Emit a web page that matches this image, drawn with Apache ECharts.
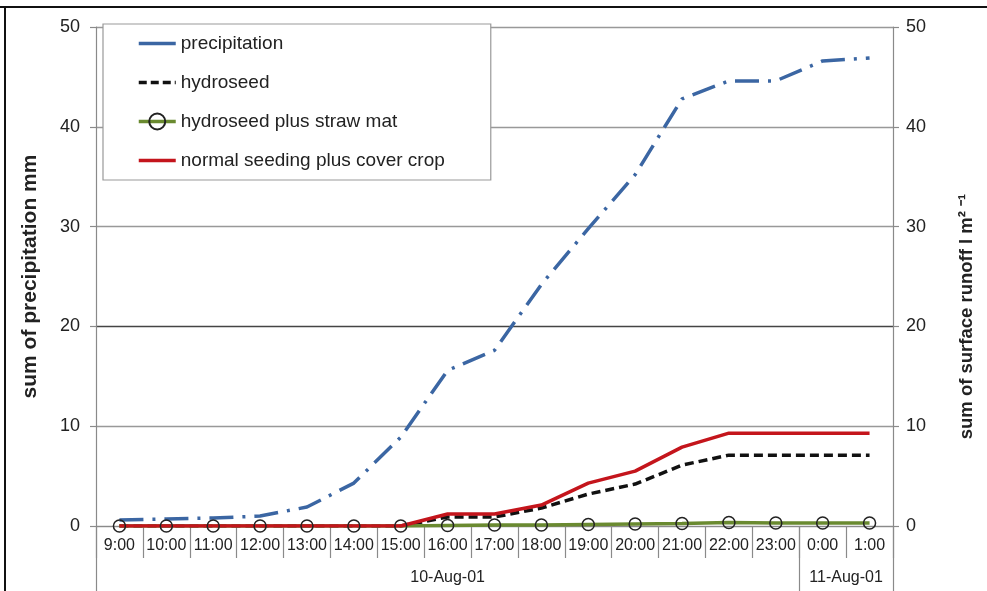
<!DOCTYPE html>
<html>
<head>
<meta charset="utf-8">
<script src="https://cdn.jsdelivr.net/npm/echarts@6/dist/echarts.min.js"></script>
<style>
html,body{margin:0;padding:0;background:#fff;}
#chart{width:987px;height:591px;}
</style>
</head>
<body>
<div id="chart"></div>
<script>
const hours = ['9:00','10:00','11:00','12:00','13:00','14:00','15:00','16:00','17:00','18:00','19:00','20:00','21:00','22:00','23:00','0:00','1:00'];
const dateLabels = ['10-Aug-01','11-Aug-01'];
const dateSpans = [15, 2];
const precipitation = [0.6,0.7,0.8,1.0,1.9,4.3,8.9,15.6,17.6,24.2,29.8,35.2,42.8,44.6,44.6,46.6,46.9];
const hydroseed = [0,0,0,0,0,0,0,0.9,0.9,1.8,3.2,4.2,6.1,7.1,7.1,7.1,7.1];
const strawMat = [0,0,0,0,0,0,0,0.05,0.1,0.1,0.15,0.2,0.25,0.35,0.3,0.3,0.3];
const coverCrop = [0,0,0,0,0,0,0,1.2,1.2,2.1,4.3,5.5,7.9,9.3,9.3,9.3,9.3];
const yTicks = [0,10,20,30,40,50];

// group boundaries and centers for the date level
const bounds = [0];
dateSpans.forEach(s => bounds.push(bounds[bounds.length-1] + s));
const centers = dateSpans.map((s, i) => bounds[i] + s / 2);

const FONT = '"Liberation Sans", Arial, sans-serif';
const grey = '#8a8a8a';
const cBlue = '#3b66a3', cBlack = '#111', cGreen = '#6a8a30', cRed = '#c4151c';

const chart = echarts.init(document.getElementById('chart'), null, {renderer: 'canvas'});
chart.setOption({
  animation: false,
  backgroundColor: '#fff',
  textStyle: {fontFamily: FONT},
  grid: {left: 96, right: 94, top: 27, bottom: 65, containLabel: false, outerBoundsMode: 'none'},
  legend: {
    orient: 'vertical', left: 103, top: 24,
    padding: [10, 46, 10, 34], itemGap: 20, itemWidth: 37, itemHeight: 20,
    backgroundColor: '#fff', borderColor: '#999', borderWidth: 1.2,
    textStyle: {fontSize: 19, color: '#222', fontFamily: FONT},
    data: [
      {name: 'precipitation', itemStyle: {opacity: 0}, lineStyle: {color: cBlue, width: 3.5, type: 'solid'}},
      {name: 'hydroseed', itemStyle: {opacity: 0}, lineStyle: {color: cBlack, width: 3.5, type: [8, 4]}},
      {name: 'hydroseed plus straw mat', lineStyle: {color: cGreen, width: 3.5, type: 'solid'}},
      {name: 'normal seeding plus cover crop', itemStyle: {opacity: 0}, lineStyle: {color: cRed, width: 3.5, type: 'solid'}}
    ]
  },
  xAxis: [
    {
      type: 'category', data: hours, boundaryGap: true, position: 'bottom',
      axisLine: {show: true, lineStyle: {color: grey, width: 1.2}},
      axisTick: {show: true, interval: 0, length: 32, lineStyle: {color: grey, width: 1.2}},
      axisLabel: {interval: 0, fontSize: 16, color: '#222', margin: 12, fontFamily: FONT},
      splitLine: {show: false}
    },
    {
      type: 'value', min: 0, max: hours.length, position: 'bottom',
      axisLine: {show: false},
      axisTick: {show: true, customValues: bounds, length: 66, lineStyle: {color: grey, width: 1.2}},
      axisLabel: {
        show: true, customValues: centers, fontSize: 16, color: '#222', margin: 44, fontFamily: FONT,
        formatter: v => { const i = centers.indexOf(v); return i >= 0 ? dateLabels[i] : ''; }
      },
      splitLine: {show: false}
    }
  ],
  yAxis: [
    {
      type: 'value', min: yTicks[0], max: yTicks[yTicks.length-1], interval: 10, position: 'left',
      name: 'sum of precipitation mm', nameLocation: 'middle', nameGap: 55,
      nameTextStyle: {fontSize: 21, fontWeight: 'bold', color: '#222', fontFamily: FONT},
      axisLine: {show: true, lineStyle: {color: grey, width: 1.2}},
      axisTick: {show: true, length: 6, lineStyle: {color: grey, width: 1.2}},
      axisLabel: {fontSize: 18, color: '#222', margin: 16, fontFamily: FONT},
      splitLine: {show: true, lineStyle: {color: ['#999','#999','#444','#999','#999','#999'], width: 1.3}}
    },
    {
      type: 'value', min: yTicks[0], max: yTicks[yTicks.length-1], interval: 10, position: 'right',
      name: 'sum of surface runoff l m\u00b2 \u207b\u00b9', nameLocation: 'middle', nameGap: 64,
      nameTextStyle: {fontSize: 18.5, fontWeight: 'bold', color: '#222', fontFamily: FONT, padding: [0, 80, 0, 0]},
      axisLine: {show: true, lineStyle: {color: grey, width: 1.2}},
      axisTick: {show: true, length: 6, lineStyle: {color: grey, width: 1.2}},
      axisLabel: {fontSize: 18, color: '#222', margin: 13, fontFamily: FONT},
      splitLine: {show: false}
    }
  ],
  graphic: [
    {type: 'line', shape: {x1: 0, y1: 7, x2: 987, y2: 7}, style: {stroke: '#111', lineWidth: 2}, z: 100},
    {type: 'line', shape: {x1: 5, y1: 7, x2: 5, y2: 591}, style: {stroke: '#111', lineWidth: 2}, z: 100}
  ],
  series: [
    {
      name: 'precipitation', type: 'line', yAxisIndex: 0, data: precipitation,
      showSymbol: false, symbol: 'none',
      lineStyle: {color: cBlue, width: 3.5, type: [24, 9, 3, 9], cap: 'butt'},
      itemStyle: {color: cBlue}
    },
    {
      name: 'hydroseed', type: 'line', yAxisIndex: 1, data: hydroseed,
      showSymbol: false, symbol: 'none',
      lineStyle: {color: cBlack, width: 3.5, type: [9, 5]},
      itemStyle: {color: cBlack}
    },
    {
      name: 'hydroseed plus straw mat', type: 'line', yAxisIndex: 1, data: strawMat,
      symbol: 'circle', symbolSize: 12, showSymbol: true,
      lineStyle: {color: cGreen, width: 3.5},
      itemStyle: {color: 'rgba(255,255,255,0)', borderColor: '#222', borderWidth: 1.5}
    },
    {
      name: 'normal seeding plus cover crop', type: 'line', yAxisIndex: 1, data: coverCrop,
      showSymbol: false, symbol: 'none',
      lineStyle: {color: cRed, width: 3.5},
      itemStyle: {color: cRed}
    }
  ]
});
</script>
</body>
</html>
